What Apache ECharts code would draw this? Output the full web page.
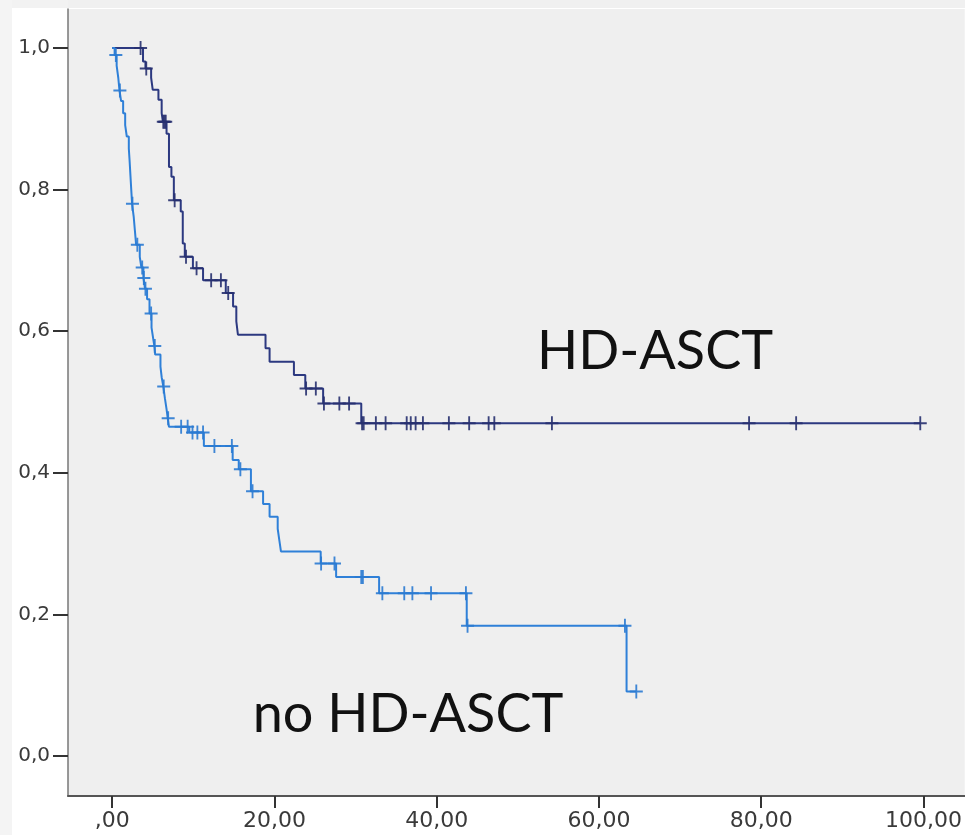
<!DOCTYPE html>
<html>
<head>
<meta charset="utf-8">
<script src="https://cdn.jsdelivr.net/npm/echarts@6/dist/echarts.min.js"></script>
<style>
  html, body { margin: 0; padding: 0; background: #ffffff; }
  #chart { width: 965px; height: 835px; }
</style>
</head>
<body>
<div id="chart"></div>
<script>
// Kaplan–Meier survival: HD-ASCT vs no HD-ASCT (time in months)

// HD-ASCT: event times and survival after each event
const hdTimes = [0, 3.8, 4.1, 4.8, 5.0, 5.7, 6.1, 6.25, 6.7, 7.0, 7.3, 7.6, 8.45, 8.7, 8.95,
  9.95, 11.2, 14.0, 14.9, 15.3, 15.5, 18.9, 19.4, 22.4, 23.8, 26.0, 30.7];
const hdSurvival = [1.0, 0.981, 0.971, 0.958, 0.941, 0.927, 0.908, 0.896, 0.879, 0.832, 0.818, 0.785, 0.769, 0.724, 0.705,
  0.689, 0.672, 0.654, 0.635, 0.614, 0.595, 0.576, 0.557, 0.538, 0.519, 0.498, 0.47];
// HD-ASCT: censored observations
const hdCensored = [3.5, 4.2, 6.3, 6.45, 6.6, 7.7, 9.1, 10.4, 12.2, 13.4, 14.3, 23.9, 25.1,
  26.1, 28.0, 29.2, 30.8, 31.0, 32.5, 33.7, 36.3, 36.8, 37.4, 38.3, 41.5, 44.0, 46.4, 47.1,
  54.2, 78.5, 84.3, 99.6];

// no HD-ASCT: event times and survival after each event
const noTimes = [0, 0.3, 0.55, 0.75, 0.9, 1.1, 1.35, 1.6, 1.8, 2.05, 2.15, 2.25, 2.35, 2.45,
  2.65, 2.8, 2.95, 3.4, 3.6, 3.85, 4.05, 4.3, 4.6, 4.85, 5.05, 5.2, 5.3, 5.95, 6.1, 6.3, 6.5,
  6.7, 6.85, 7.0, 9.5, 11.3, 14.85, 15.6, 17.1, 18.6, 19.4, 20.4, 20.6, 20.8, 25.7, 27.6, 32.9,
  43.7, 63.4];
const noSurvival = [1.0, 0.99, 0.975, 0.958, 0.94, 0.925, 0.908, 0.891, 0.875, 0.858, 0.84, 0.82, 0.80, 0.78,
  0.762, 0.742, 0.722, 0.705, 0.69, 0.675, 0.66, 0.645, 0.625, 0.605, 0.59, 0.579, 0.567, 0.55, 0.535, 0.522, 0.505,
  0.49, 0.477, 0.465, 0.457, 0.438, 0.418, 0.405, 0.374, 0.356, 0.338, 0.321, 0.305, 0.289, 0.272, 0.253, 0.23,
  0.184, 0.091];
// no HD-ASCT: censored observations
const noCensored = [0.45, 0.95, 2.5, 3.1, 3.7, 3.9, 4.1, 4.8, 5.25, 6.35, 6.9, 8.5, 9.3, 9.9,
  10.5, 11.2, 12.6, 14.75, 15.8, 17.3, 25.75, 27.4, 30.7, 30.9, 33.3, 36.0, 37.0, 39.3, 43.6,
  43.8, 63.2, 64.6];

// Axis ticks and their labels
const xTickValues = [0, 20, 40, 60, 80, 100];
const xTickLabels = [',00', '20,00', '40,00', '60,00', '80,00', '100,00'];
const yTickValues = [0, 0.2, 0.4, 0.6, 0.8, 1.0];
const yTickLabels = ['0,0', '0,2', '0,4', '0,6', '0,8', '1,0'];

// Group annotations
const groupNames = ['HD-ASCT', 'no HD-ASCT'];

// survival value of a step function at time t
function survivalAt(times, surv, t) {
  let s = surv[0];
  for (let i = 0; i < times.length; i++) {
    if (times[i] <= t) s = surv[i]; else break;
  }
  return s;
}

// step curve points, extended to the last follow-up time
function curve(times, surv, censored) {
  const pts = times.map((t, i) => [t, surv[i]]);
  const last = Math.max(...censored);
  if (last > times[times.length - 1]) pts.push([last, survivalAt(times, surv, last)]);
  return pts;
}

function censorPoints(times, surv, censored) {
  return censored.map(t => [t, survivalAt(times, surv, t)]);
}

function labelFor(values, labels) {
  return v => {
    const i = values.findIndex(x => Math.abs(x - v) < 1e-6);
    return i >= 0 ? labels[i] : '';
  };
}

const HD_COLOR = '#2c3980';
const HD_MARK = '#27306f';
const NO_COLOR = '#2f80d8';
const NO_MARK = '#2a7ad2';
const CROSS = 'path://M-1,-7 L1,-7 L1,-1 L7,-1 L7,1 L1,1 L1,7 L-1,7 L-1,1 L-7,1 L-7,-1 L-1,-1 Z';

const chart = echarts.init(document.getElementById('chart'), null, { renderer: 'canvas' });

chart.setOption({
  animation: false,
  backgroundColor: '#ffffff',
  grid: {
    left: 68, top: 9, right: -2, bottom: 39,
    show: true, backgroundColor: '#efefef', borderWidth: 0
  },
  xAxis: {
    type: 'value',
    min: -5.446,
    max: 105.08,
    axisLine: { show: true, onZero: false, lineStyle: { color: '#555555', width: 2 } },
    axisTick: {
      show: true, customValues: xTickValues, length: 12, inside: false,
      lineStyle: { color: '#333333', width: 2 }
    },
    axisLabel: {
      customValues: xTickValues,
      formatter: labelFor(xTickValues, xTickLabels),
      fontFamily: 'DejaVu Sans', fontSize: 22, color: '#3a3a3a', margin: 14
    },
    splitLine: { show: false }
  },
  yAxis: {
    type: 'value',
    min: -0.0565,
    max: 1.0551,
    axisLine: { show: true, onZero: false, lineStyle: { color: '#777777', width: 1.5 } },
    axisTick: {
      show: true, customValues: yTickValues, length: 15,
      lineStyle: { color: '#333333', width: 2 }
    },
    axisLabel: {
      customValues: yTickValues,
      formatter: labelFor(yTickValues, yTickLabels),
      fontFamily: 'DejaVu Sans', fontSize: 20, color: '#3a3a3a', margin: 18
    },
    splitLine: { show: false }
  },
  graphic: [
    { type: 'rect', shape: { x: 0, y: 0, width: 965, height: 8 }, style: { fill: '#f2f2f2' }, z: -10, silent: true },
    { type: 'rect', shape: { x: 0, y: 0, width: 12, height: 835 }, style: { fill: '#f4f4f4' }, z: -10, silent: true },
    { type: 'rect', shape: { x: 68, y: 0, width: 897, height: 8 }, style: { fill: '#f0f0f0' }, z: -9, silent: true },
    { type: 'rect', shape: { x: 12, y: 8, width: 953, height: 1 }, style: { fill: '#ffffff' }, z: -9, silent: true },
    {
      type: 'text', x: 655, y: 352, z: 100,
      style: { text: groupNames[0], font: '54px Lato', fill: '#111111', textAlign: 'center', textVerticalAlign: 'middle' }
    },
    {
      type: 'text', x: 408, y: 715, z: 100,
      style: { text: groupNames[1], font: '54px Lato', fill: '#111111', textAlign: 'center', textVerticalAlign: 'middle' }
    }
  ],
  series: [
    {
      name: groupNames[0], type: 'line', step: 'end', symbol: 'none', z: 3,
      data: curve(hdTimes, hdSurvival, hdCensored),
      lineStyle: { color: HD_COLOR, width: 2 }
    },
    {
      name: groupNames[0] + ' censored', type: 'scatter', symbol: CROSS, symbolSize: [13, 14], z: 4,
      data: censorPoints(hdTimes, hdSurvival, hdCensored),
      itemStyle: { color: HD_MARK, opacity: 0.9 }
    },
    {
      name: groupNames[1], type: 'line', step: 'end', symbol: 'none', z: 5,
      data: curve(noTimes, noSurvival, noCensored),
      lineStyle: { color: NO_COLOR, width: 2 }
    },
    {
      name: groupNames[1] + ' censored', type: 'scatter', symbol: CROSS, symbolSize: [13, 14], z: 6,
      data: censorPoints(noTimes, noSurvival, noCensored),
      itemStyle: { color: NO_MARK, opacity: 0.9 }
    }
  ]
});
</script>
</body>
</html>
